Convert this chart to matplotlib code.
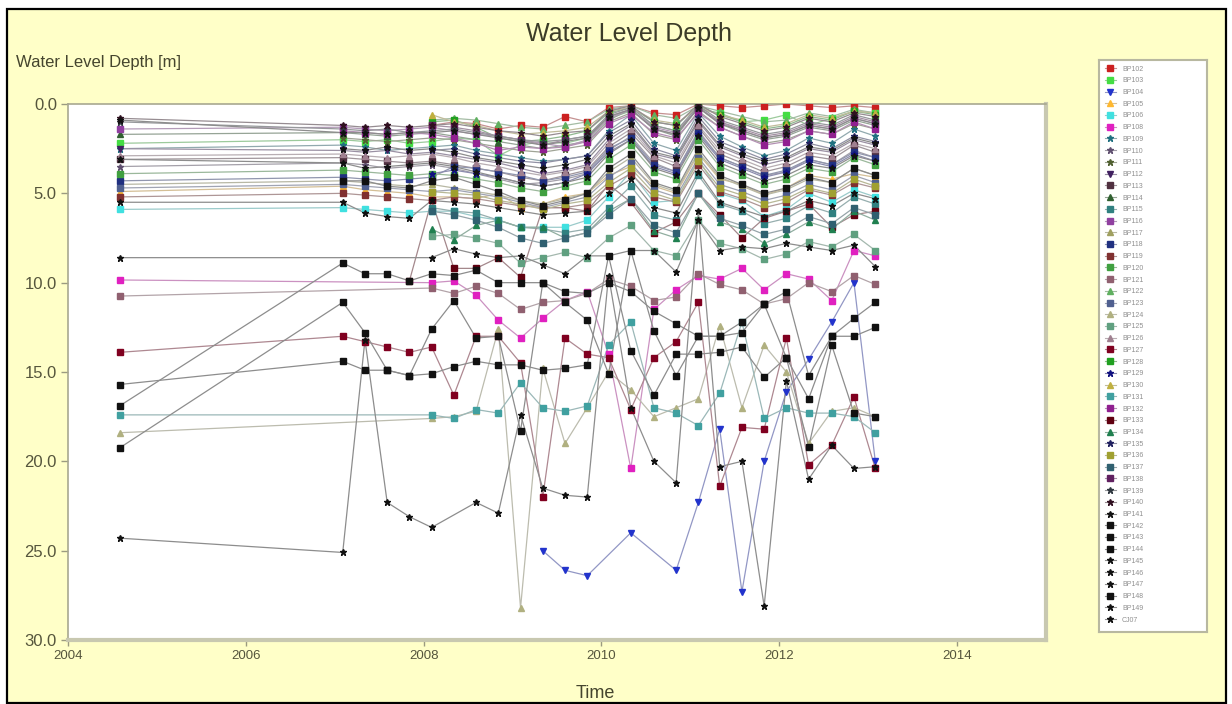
import numpy as np
import matplotlib
matplotlib.use("Agg")
import matplotlib.pyplot as plt
from matplotlib.colors import to_rgb
from matplotlib.patches import Rectangle
from matplotlib.lines import Line2D

plt.rcParams['font.family'] = ['Liberation Sans', 'DejaVu Sans']

N = None
DATES = [2004.58, 2007.09, 2007.34, 2007.59, 2007.84, 2008.09, 2008.34, 2008.59,
         2008.84, 2009.09, 2009.34, 2009.59, 2009.84, 2010.08, 2010.33, 2010.59,
         2010.84, 2011.09, 2011.33, 2011.58, 2011.83, 2012.08, 2012.33, 2012.59,
         2012.84, 2013.08]

NAMES = ["BP102", "BP103", "BP104", "BP105", "BP106", "BP108", "BP109", "BP110",
         "BP111", "BP112", "BP113", "BP114", "BP115", "BP116", "BP117", "BP118",
         "BP119", "BP120", "BP121", "BP122", "BP123", "BP124", "BP125", "BP126",
         "BP127", "BP128", "BP129", "BP130", "BP131", "BP132", "BP133", "BP134",
         "BP135", "BP136", "BP137", "BP138", "BP139", "BP140", "BP141", "BP142",
         "BP143", "BP144", "BP145", "BP146", "BP147", "BP148", "BP149", "CJ07"]

COLORS = ['#CC2020', '#44DD44', '#2233CC', '#FFB830', '#40E0E0', '#E020C0', '#207080', '#605070',
          '#506030', '#402060', '#503040', '#306030', '#308080', '#9040A0', '#A0A060', '#203080',
          '#803030', '#40A040', '#906070', '#60B060', '#506090', '#B0B080', '#60A080', '#A08090',
          '#800020', '#20A020', '#101080', '#C0B040', '#40A0A0', '#902090', '#600010', '#208050',
          '#202060', '#A0A030', '#306070', '#602060', '#303840', '#301020', '#111111', '#111111',
          '#111111', '#111111', '#111111', '#111111', '#111111', '#111111', '#111111', '#111111']

MARKERS = ['s', 's', 'v', '^', 's', 's', '*', '*', '*', 'v', 's', '^', 's', 's', '^', 's',
           's', 's', 's', '^', 's', '^', 's', '^', 's', 's', '*', '^', 's', 's', 's', '^',
           '*', 's', 's', 's', '*', '*', '*', 's', 's', 's', '*', '*', '*', 's', '*', '*']

S01 = [N, N, N, N, N, 1.2, 1.0, 1.1, 1.4, 1.2, 1.3, 0.7, 1.0, 0.2, 0.1, 0.5, 0.6, 0.0, 0.1, 0.2, 0.1, 0.0, 0.1, 0.2, 0.1, 0.2]
S02 = [2.2, 2.0, 2.1, 2.0, 2.2, 2.1, 1.9, 2.0, 2.9, 2.3, 2.1, 2.2, 1.9, 0.8, 0.4, 1.2, 1.5, 0.3, 0.5, 1.0, 0.9, 0.6, 1.2, 0.8, 0.4, 0.5]
S03 = [N, N, N, N, N, N, N, N, N, N, 25.0, 26.1, 26.4, N, 24.0, N, 26.1, 22.3, 18.2, 27.3, 20.0, 16.1, 14.3, 12.2, 10.0, 20.0]
S04 = [4.9, 4.6, 4.8, 4.9, 5.0, 5.2, 5.2, 5.3, 5.0, 5.8, 5.6, 5.2, 5.0, 4.0, 3.5, 4.6, 5.0, 2.8, 4.2, 4.5, 5.1, 4.7, 4.0, 4.2, 3.9, 4.1]
S05 = [5.9, 5.8, 5.9, 6.0, 6.1, 6.0, 6.0, 6.3, 6.5, 6.9, 6.9, 6.9, 6.5, 5.2, 3.8, 5.5, 5.4, 3.1, 5.0, 5.4, 6.3, 5.9, 5.0, 5.5, 4.8, 5.2]
S06 = [9.85, N, N, N, N, 10.0, 9.9, 10.7, 12.1, 13.1, 12.0, 11.0, 10.5, 14.0, 20.4, 11.5, 10.4, 9.6, 9.8, 9.2, 10.4, 9.5, 9.8, 11.0, 8.2, 8.5]
S07 = [2.5, 2.3, 2.4, 2.6, 2.5, 2.4, 2.3, 2.6, 2.8, 3.0, 3.2, 3.1, 2.9, 1.5, 0.6, 2.2, 2.6, 0.5, 1.8, 2.4, 2.9, 2.6, 1.9, 2.2, 1.4, 1.8]
S08 = [3.5, 3.3, 3.4, 3.6, 3.5, 3.4, 3.6, 3.9, 4.2, 4.5, 4.4, 4.2, 3.9, 2.6, 1.8, 3.3, 3.8, 1.5, 3.0, 3.5, 4.0, 3.8, 3.1, 3.4, 2.6, 3.0]
S09 = [N, 1.9, 2.0, 2.1, 2.0, 1.9, 2.0, 2.2, 2.4, 2.6, 2.7, 2.5, 2.3, 1.0, 0.5, 1.7, 2.0, 0.4, 1.3, 1.8, 2.2, 2.0, 1.5, 1.7, 1.1, 1.4]
S10 = [2.5, 2.6, 2.7, 2.6, 2.8, 2.7, 2.9, 3.1, 3.3, 3.6, 3.9, 3.7, 3.4, 2.0, 1.2, 2.8, 3.1, 1.0, 2.4, 2.9, 3.4, 3.1, 2.5, 2.7, 2.0, 2.3]
S11 = [3.1, 3.0, 3.1, 3.2, 3.3, 3.2, 3.4, 3.6, 3.8, 4.1, 4.3, 4.0, 3.7, 2.4, 1.6, 3.0, 3.5, 1.3, 2.8, 3.3, 3.8, 3.5, 2.9, 3.1, 2.3, 2.7]
S12 = [1.7, 1.6, 1.7, 1.8, 1.7, 1.6, 1.8, 2.0, 2.1, 2.3, 2.5, 2.3, 2.1, 0.9, 0.3, 1.4, 1.8, 0.2, 1.1, 1.6, 2.0, 1.8, 1.3, 1.5, 0.9, 1.2]
S13 = [N, N, N, N, N, 5.8, 6.0, 6.1, 6.5, 6.9, 7.0, 7.2, 7.0, 5.8, 4.6, 6.2, 6.5, 4.0, 5.6, 6.0, 6.7, 6.4, 5.7, 6.1, 5.2, 5.6]
S14 = [1.4, 1.3, 1.4, 1.5, 1.4, 1.3, 1.5, 1.7, 1.8, 2.0, 2.2, 2.4, 2.0, 0.8, 0.3, 1.3, 1.6, 0.2, 1.0, 1.5, 1.9, 1.7, 1.2, 1.4, 0.8, 1.1]
S15 = [4.5, 4.3, 4.4, 4.5, 4.6, 4.5, 4.7, 4.9, 5.1, 5.4, 5.6, 5.3, 5.0, 3.8, 3.0, 4.5, 4.9, 2.7, 4.1, 4.6, 5.1, 4.8, 4.2, 4.4, 3.6, 4.0]
S16 = [4.3, 4.1, 4.2, 4.3, 4.2, 4.1, 3.5, 3.6, 3.8, 4.0, 4.3, 4.1, 3.8, 2.5, 1.9, 3.4, 3.8, 1.6, 3.0, 3.5, 4.0, 3.7, 3.1, 3.4, 2.7, 3.0]
S17 = [5.2, 5.0, 5.1, 5.2, 5.3, 5.4, 5.2, 5.3, 5.5, 5.7, 5.8, 5.8, 5.6, 4.6, 3.9, 5.2, 5.5, 3.4, 4.9, 5.3, 5.8, 5.5, 4.8, 5.1, 4.4, 4.7]
S18 = [3.9, 3.7, 3.8, 3.9, 4.0, 3.9, 4.0, 4.2, 4.4, 4.7, 4.9, 4.6, 4.3, 3.1, 2.3, 3.8, 4.2, 2.0, 3.5, 4.0, 4.5, 4.2, 3.6, 3.8, 3.0, 3.4]
S19 = [10.75, N, N, N, N, 10.3, 10.6, 10.2, 10.6, 11.5, 11.1, 11.0, 10.6, 9.8, 10.2, 11.0, 10.8, 9.5, 10.1, 10.4, 11.2, 10.9, 10.0, 10.5, 9.6, 10.1]
S20 = [N, N, N, N, N, 0.9, 0.8, 0.9, 1.1, 1.3, 1.4, 1.2, 1.0, 0.3, 0.1, 0.6, 0.8, 0.1, 0.4, 0.7, 1.0, 0.9, 0.5, 0.7, 0.3, 0.5]
S21 = [4.7, 4.5, 4.6, 4.7, 4.8, 4.9, 4.8, 5.0, 5.2, 5.5, 5.8, 5.5, 5.2, 4.1, 3.3, 4.8, 5.2, 3.0, 4.5, 4.9, 5.4, 5.1, 4.5, 4.8, 4.0, 4.4]
S22 = [18.4, N, N, N, N, 17.6, 17.5, 17.2, 12.6, 28.2, 14.8, 19.0, 17.0, 15.0, 16.0, 17.5, 17.0, 16.5, 12.4, 17.0, 13.5, 15.0, 19.0, 17.2, 17.0, 17.5]
S23 = [N, N, N, N, N, 7.4, 7.3, 7.5, 7.8, 8.9, 8.6, 8.3, 8.6, 7.5, 6.8, 8.2, 8.5, 6.5, 7.8, 8.1, 8.7, 8.4, 7.7, 8.0, 7.3, 8.2]
S24 = [2.9, 2.8, 2.9, 3.0, 2.9, 2.8, 3.0, 3.3, 3.5, 3.8, 4.0, 3.8, 3.5, 2.2, 1.4, 2.9, 3.3, 1.2, 2.6, 3.1, 3.6, 3.3, 2.7, 2.9, 2.2, 2.5]
S25 = [13.9, 13.0, 13.3, 13.6, 13.9, 13.6, 16.3, 13.0, 13.0, 14.5, 22.0, 13.1, 14.0, 14.2, 17.1, 14.2, 13.3, 11.1, 21.4, 18.1, 18.2, 13.1, 20.2, 19.1, 16.4, 20.4]
S26 = [N, N, N, N, N, 1.0, 0.9, 1.3, 1.9, 2.1, 2.0, 1.8, 1.5, 0.5, 0.2, 1.0, 1.2, 0.1, 0.6, 1.0, 1.4, 1.2, 0.7, 0.9, 0.4, 0.6]
S27 = [N, N, N, N, N, 3.9, 3.7, 3.9, 4.1, 4.4, 4.6, 4.4, 3.9, 2.7, 2.0, 3.5, 3.9, 1.7, 3.1, 3.6, 4.1, 3.8, 3.2, 3.5, 2.8, 3.2]
S28 = [N, N, N, N, N, 0.6, 1.0, 1.2, 1.5, 1.7, 1.6, 1.5, 1.3, 0.4, 0.2, 0.9, 1.1, 0.2, 0.6, 0.9, 1.3, 1.1, 0.6, 0.8, 0.4, 0.5]
S29 = [17.4, N, N, N, N, 17.4, 17.6, 17.1, 17.3, 15.6, 17.0, 17.2, 16.9, 13.5, 12.2, 17.0, 17.3, 18.0, 16.2, 12.2, 17.6, 17.0, 17.3, 17.3, 17.5, 18.4]
S30 = [N, 1.5, 1.6, 1.7, 1.6, 1.7, 1.9, 2.2, 2.6, 2.4, 2.5, 2.4, 2.1, 1.1, 0.6, 1.6, 1.9, 0.5, 1.3, 1.8, 2.3, 2.1, 1.5, 1.7, 1.0, 1.4]
S31 = [N, N, N, N, 9.9, 5.4, 9.2, 9.2, 8.6, 9.7, 5.8, 5.8, 6.0, 4.5, 5.5, 7.2, 6.6, 5.0, 6.2, 7.5, 6.4, 6.0, 5.6, 6.9, 6.2, 6.0]
S32 = [N, N, N, N, N, 7.0, 7.6, 6.8, 6.5, 6.9, 6.9, 7.5, 7.2, 6.0, 5.3, 7.1, 7.5, 5.0, 6.6, 7.0, 7.8, 7.3, 6.6, 7.0, 6.0, 6.5]
S33 = [N, N, N, N, N, 2.6, 2.5, 2.8, 3.0, 3.2, 3.3, 3.1, 2.9, 1.6, 0.9, 2.5, 2.9, 0.7, 2.1, 2.6, 3.1, 2.8, 2.2, 2.5, 1.8, 2.1]
S34 = [N, N, N, N, N, 4.9, 5.0, 5.1, 5.4, 5.6, 5.9, 5.6, 5.4, 4.4, 3.6, 5.0, 5.4, 3.2, 4.7, 5.1, 5.6, 5.3, 4.7, 5.0, 4.2, 4.6]
S35 = [N, N, N, N, N, 6.0, 6.2, 6.5, 6.9, 7.5, 7.8, 7.5, 7.2, 6.2, 5.3, 6.8, 7.2, 5.0, 6.4, 6.8, 7.3, 7.0, 6.3, 6.7, 5.8, 6.2]
S36 = [N, N, N, N, N, 1.2, 1.3, 1.5, 1.8, 2.0, 2.3, 2.0, 1.8, 0.7, 0.3, 1.4, 1.7, 0.2, 1.0, 1.4, 1.8, 1.6, 1.1, 1.3, 0.7, 1.0]
S37 = [1.0, 1.4, 1.5, 1.4, 1.6, 1.5, 1.4, 1.6, 1.8, 2.0, 2.1, 2.0, 1.8, 0.6, 0.2, 1.2, 1.5, 0.1, 0.9, 1.3, 1.7, 1.5, 1.0, 1.2, 0.6, 0.9]
S38 = [0.8, 1.2, 1.3, 1.2, 1.3, 1.2, 1.1, 1.3, 1.5, 1.6, 1.8, 1.6, 1.5, 0.4, 0.1, 1.0, 1.2, 0.0, 0.7, 1.1, 1.5, 1.3, 0.8, 1.0, 0.5, 0.7]
S39 = [8.6, N, N, N, N, 8.6, 8.1, 8.4, 8.6, 8.5, 9.0, 9.5, 8.5, 8.5, 8.2, 8.2, 9.4, 6.5, 8.2, 8.0, 8.1, 7.8, 8.0, 8.2, 7.9, 9.1]
S40 = [16.9, 8.9, 9.5, 9.5, 9.9, 9.5, 9.6, 9.3, 10.0, 10.0, 10.0, 10.5, 10.6, 10.0, 10.5, 11.6, 12.3, 13.0, 13.0, 12.8, 11.2, 10.5, 15.2, 13.0, 12.0, 11.1]
S41 = [19.25, 11.1, 12.8, 14.9, 15.2, 12.6, 11.0, 13.1, 13.0, 18.3, 10.0, 11.1, 12.1, 15.1, 8.2, 12.7, 15.2, 13.0, 13.0, 12.2, 11.2, 14.2, 16.5, 13.0, 13.0, 12.5]
S42 = [15.7, 14.4, 14.9, 14.9, 15.2, 15.1, 14.7, 14.4, 14.6, 14.6, 14.9, 14.8, 14.6, 8.5, 13.8, 16.3, 14.0, 14.0, 13.9, 13.6, 15.3, 14.2, 19.2, 13.5, 17.3, 17.5]
S43 = [24.3, 25.1, 13.2, 22.3, 23.1, 23.7, N, 22.3, 22.9, 17.4, 21.5, 21.9, 22.0, 9.6, 17.0, 20.0, 21.2, 6.0, 20.3, 20.0, 28.1, 15.5, 21.0, 19.1, 20.4, 20.3]
S44 = [5.5, 5.5, 6.1, 6.3, 6.4, 5.4, 5.5, 5.6, 5.8, 6.0, 6.2, 6.1, 6.0, 5.0, 4.2, 5.8, 6.1, 3.8, 5.5, 5.9, 6.3, 6.0, 5.4, 5.7, 5.0, 5.3]
S45 = [3.1, 3.3, 3.6, 3.5, 3.4, 3.3, 3.5, 3.8, 4.1, 4.4, 4.6, 4.4, 4.1, 2.8, 2.0, 3.6, 4.0, 1.8, 3.3, 3.8, 4.3, 4.0, 3.4, 3.6, 2.9, 3.2]
S46 = [N, 4.3, 4.3, 4.6, 4.7, 4.3, 4.1, 4.5, 4.9, 5.4, 5.7, 5.4, 5.0, 3.6, 2.8, 4.4, 4.8, 2.5, 4.0, 4.5, 5.0, 4.7, 4.1, 4.4, 3.6, 4.0]
S47 = [N, 2.5, 2.6, 2.4, 2.6, 2.5, 2.7, 3.0, 3.2, 3.4, 3.6, 3.4, 3.1, 1.8, 1.1, 2.7, 3.0, 0.9, 2.3, 2.8, 3.2, 3.0, 2.4, 2.6, 1.9, 2.2]
S48 = [0.9, 1.6, 1.6, 1.7, 1.6, 1.6, 1.5, 1.7, 1.9, 2.1, 2.3, 2.1, 1.9, 0.7, 0.3, 1.4, 1.7, 0.2, 1.1, 1.5, 1.9, 1.7, 1.2, 1.4, 0.8, 1.1]

SERIES = [S01, S02, S03, S04, S05, S06, S07, S08, S09, S10, S11, S12, S13, S14, S15, S16,
          S17, S18, S19, S20, S21, S22, S23, S24, S25, S26, S27, S28, S29, S30, S31, S32,
          S33, S34, S35, S36, S37, S38, S39, S40, S41, S42, S43, S44, S45, S46, S47, S48]

W, H = 1232, 704
fig = plt.figure(figsize=(W / 100, H / 100), dpi=100, facecolor='white')

# yellow panel with black border
fig.patches.append(Rectangle((7 / W, 1 / H), (1226 - 7) / W, (695 - 1) / H,
                             transform=fig.transFigure, facecolor='#FFFFC8',
                             edgecolor='black', linewidth=1.6, zorder=-10))

ax = fig.add_axes([68 / W, 1 - 640 / H, (1046 - 68) / W, (640 - 104) / H])
ax.set_facecolor('white')

x = np.array(DATES, dtype=float)
gray = np.array([0.76, 0.76, 0.76])
for vals, col, mk in zip(SERIES, COLORS, MARKERS):
    y = np.array([np.nan if v is None else v for v in vals], dtype=float)
    m = ~np.isnan(y)
    c = np.array(to_rgb(col))
    lc = 0.3 * c + 0.7 * gray
    ax.plot(x[m], y[m], '-', color=lc, lw=0.9, zorder=2)
for vals, col, mk in zip(SERIES, COLORS, MARKERS):
    y = np.array([np.nan if v is None else v for v in vals], dtype=float)
    m = ~np.isnan(y)
    ms = 5.0 if mk == '*' else 4.0
    ax.plot(x[m], y[m], linestyle='none', marker=mk, ms=ms, color=col,
            markeredgecolor=col, zorder=3)

ax.set_xlim(2004, 2015)
ax.set_ylim(30, 0)
ax.set_xticks([2004, 2006, 2008, 2010, 2012, 2014])
ax.set_xticklabels(['2004', '2006', '2008', '2010', '2012', '2014'])
ax.set_yticks([0, 5, 10, 15, 20, 25, 30])
ax.set_yticklabels(['0.0', '5.0', '10.0', '15.0', '20.0', '25.0', '30.0'])
ax.tick_params(axis='y', labelsize=12, colors='#9A9A80', labelcolor='#55553C',
               length=5, width=1, pad=3)
ax.tick_params(axis='x', labelsize=9.5, colors='#9A9A80', labelcolor='#55553C',
               length=4, width=1, pad=3)
for s in ['left', 'top']:
    ax.spines[s].set_color('#A8A890')
    ax.spines[s].set_linewidth(1.2)
for s in ['bottom', 'right']:
    ax.spines[s].set_color('#C8C8B0')
    ax.spines[s].set_linewidth(3)

fig.text(629 / W, 1 - 34 / H, 'Water Level Depth', ha='center', va='center',
         fontsize=18, color='#3C3C28')
fig.text(16 / W, 1 - 63 / H, 'Water Level Depth [m]', ha='left', va='center',
         fontsize=12, color='#45452E')
fig.text(595 / W, 1 - 694 / H, 'Time', ha='center', va='center',
         fontsize=13, color='#45452E')

# legend box
lax = fig.add_axes([1099 / W, 1 - 632 / H, (1207 - 1099) / W, (632 - 60) / H])
lax.set_xticks([])
lax.set_yticks([])
lax.set_facecolor('white')
for s in lax.spines.values():
    s.set_color('#B8B8A0')
    s.set_linewidth(1.5)
handles = []
for col, mk in zip(COLORS, MARKERS):
    c = np.array(to_rgb(col))
    handles.append(Line2D([], [], color=0.3 * c + 0.7 * gray, lw=0.8, marker=mk,
                          ms=4.5 if mk == '*' else 3.8, markerfacecolor=col,
                          markeredgecolor=col))
leg = lax.legend(handles, NAMES, loc='upper left', frameon=False, fontsize=5,
                 labelspacing=0.68, handlelength=1.6, handletextpad=0.9,
                 borderaxespad=0.5, borderpad=0.3)
for t in leg.get_texts():
    t.set_color('#909090')

fig.savefig('out.png', dpi=100, facecolor='white')
